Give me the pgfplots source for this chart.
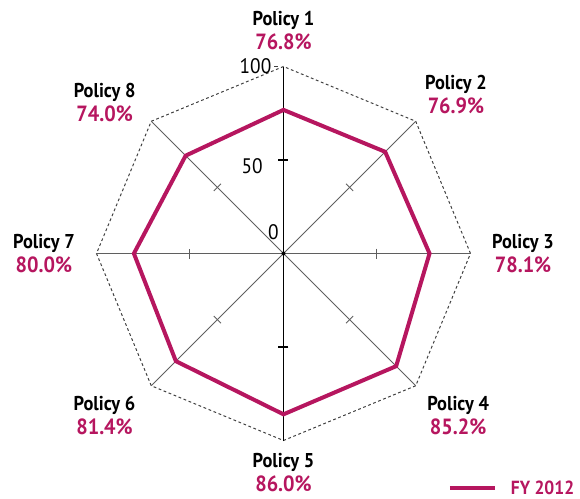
\documentclass[border=0pt]{standalone}
\usepackage{pgfplots}
\pgfplotsset{compat=1.18}
\usepgfplotslibrary{polar}
\usetikzlibrary{calc}
\usepackage{fontspec}
\setmainfont{PT Sans}[FakeStretch=0.92]
\definecolor{pm}{RGB}{182,22,95}
\definecolor{spk}{RGB}{95,95,95}
\tikzset{lbl/.style={align=center, inner sep=0pt, font=\fontsize{10}{12}\selectfont\bfseries}}

\begin{document}
\begin{tikzpicture}
\begin{polaraxis}[
    scale only axis,
    width=187pt, height=187pt,
    xmin=0, xmax=360, ymin=0, ymax=100,
    hide axis,
    clip=false,
]
    \coordinate (c) at (axis cs:0,0);
    % outer octagon (dotted)
    \addplot[black!75, line width=0.5pt, dash pattern=on 1.4pt off 1.3pt, mark=none]
        coordinates {(0,100) (45,100) (90,100) (135,100) (180,100) (225,100) (270,100) (315,100)} -- cycle;
    % spokes and ticks at 50
    \pgfplotsinvokeforeach{0,45,135,180,225,315}{
        \draw[spk, line width=0.5pt] (axis cs:#1,0) -- (axis cs:#1,100);
        \draw[spk, line width=0.5pt]
            ($(axis cs:#1,50)!2.5pt!90:(axis cs:#1,100)$) -- ($(axis cs:#1,50)!2.5pt!-90:(axis cs:#1,100)$);
    }
    \pgfplotsinvokeforeach{90,270}{
        \draw[black, line width=0.6pt] (axis cs:#1,0) -- (axis cs:#1,100);
        \draw[black, line width=0.6pt]
            ($(axis cs:#1,50)!2.5pt!90:(axis cs:#1,100)$) -- ($(axis cs:#1,50)!2.5pt!-90:(axis cs:#1,100)$);
    }
    \draw[black!75, line width=0.5pt] ([xshift=-4.5pt]axis cs:90,100) -- ([xshift=-2.5pt]axis cs:90,100);
    \fill (axis cs:0,0) circle (1pt);

    % data
    \addplot[pm, line width=2pt, line join=miter, mark=none]
        coordinates {(90,76.8) (45,76.9) (0,78.1) (315,85.2) (270,86.0) (225,81.4) (180,80.0) (135,74.0)} -- cycle;

    % radial tick labels
    \node[anchor=east, inner sep=0pt, font=\fontsize{10.5}{12}\selectfont] at ([xshift=-5.9pt]axis cs:90,100) {100};
    \node[anchor=east, inner sep=0pt, font=\fontsize{10.5}{12}\selectfont] at ([xshift=-10.2pt, yshift=-3.3pt]axis cs:90,50) {50};
    \node[anchor=east, inner sep=0pt, font=\fontsize{10.5}{12}\selectfont] at ([xshift=-2.2pt, yshift=10.8pt]axis cs:90,0) {0};

    % category labels
    \node[lbl] at (axis cs:90,119.0) {Policy 1\\{\fontsize{11}{12}\selectfont\color{pm}76.8\%}};
    \node[lbl] at (axis cs:42.6,125.3) {Policy 2\\{\fontsize{11}{12}\selectfont\color{pm}76.9\%}};
    \node[lbl] at (axis cs:0,128.1) {Policy 3\\{\fontsize{11}{12}\selectfont\color{pm}78.1\%}};
    \node[lbl] at (axis cs:317.2,127.3) {Policy 4\\{\fontsize{11}{12}\selectfont\color{pm}85.2\%}};
    \node[lbl] at (axis cs:270,117.0) {Policy 5\\{\fontsize{11}{12}\selectfont\color{pm}86.0\%}};
    \node[lbl] at (axis cs:222.1,129.0) {Policy 6\\{\fontsize{11}{12}\selectfont\color{pm}81.4\%}};
    \node[lbl] at (axis cs:180,128.1) {Policy 7\\{\fontsize{11}{12}\selectfont\color{pm}80.0\%}};
    \node[lbl] at (axis cs:139.8,125.2) {Policy 8\\{\fontsize{11}{12}\selectfont\color{pm}74.0\%}};
\end{polaraxis}
\pgfresetboundingbox
\useasboundingbox ([shift={(-141.75pt,-122.75pt)}]c) rectangle ([shift={(148.25pt,126.75pt)}]c);
% legend
\draw[pm, line width=2pt] ([shift={(83.25pt,-117.5pt)}]c) -- ([shift={(105.75pt,-117.5pt)}]c);
\node[anchor=base west, inner sep=0pt, text=pm, font=\fontsize{9.5}{12}\selectfont\bfseries]
    at ([shift={(113.5pt,-120.6pt)}]c) {FY 2012};
\end{tikzpicture}
\end{document}
